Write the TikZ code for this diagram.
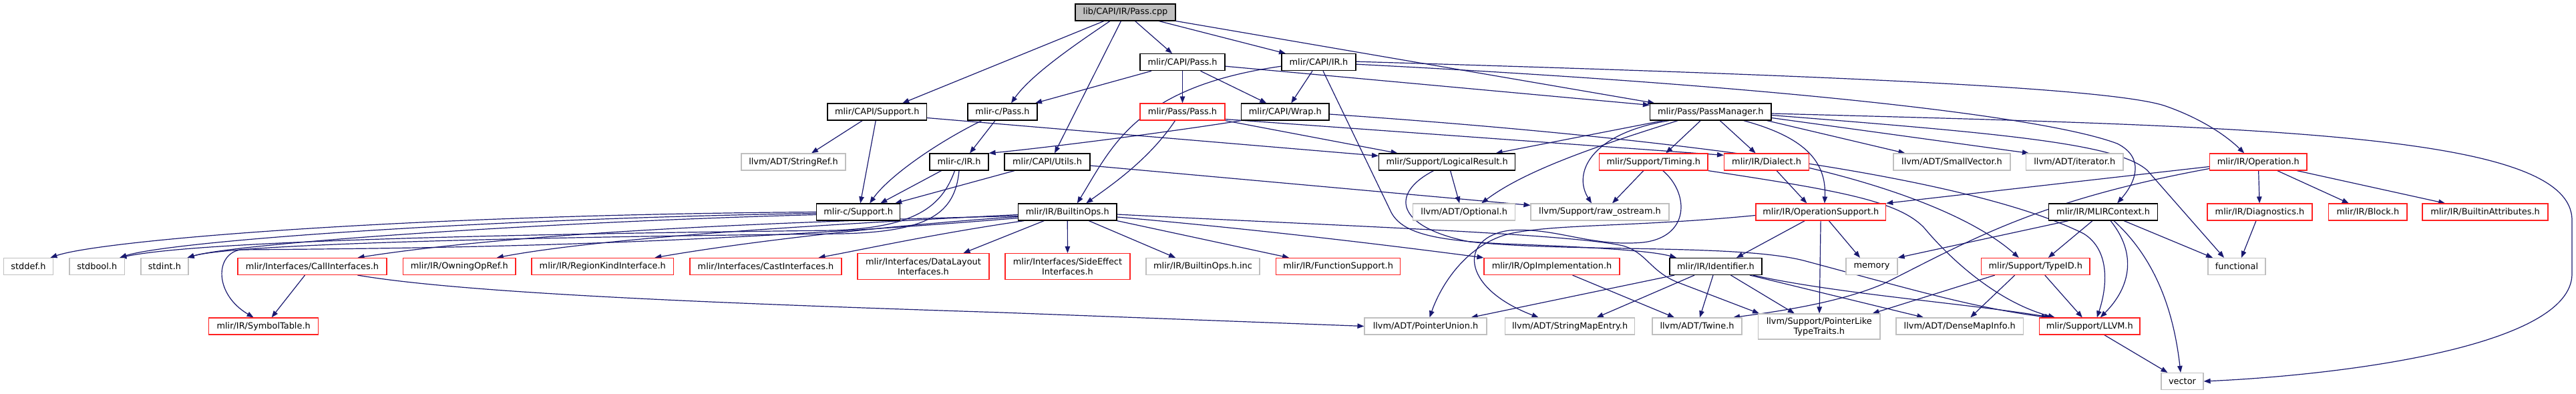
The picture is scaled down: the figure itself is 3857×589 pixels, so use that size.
\documentclass[tikz,border=0pt]{standalone}
\usepackage{fontspec}
\setmainfont{DejaVu Sans}
\usetikzlibrary{arrows.meta}
\definecolor{edgec}{HTML}{191970}
\definecolor{grayc}{HTML}{BFBFBF}
\definecolor{redc}{HTML}{FF2020}
\definecolor{rootfill}{HTML}{BFBFBF}
\newcommand\graphfont{\fontsize{12.9}{15}\selectfont}
\pgfdeclarelayer{bg}
\pgfsetlayers{bg,main}
\tikzset{
 box/.style={draw, rectangle, inner sep=0pt, minimum height=25, line width=1.2pt, fill=white, font=\graphfont, align=center},
 blk/.style={box, draw=black},
 rbox/.style={box, draw=redc},
 gbox/.style={box, draw=grayc},
 rbox2/.style={rbox, minimum height=39},
 gbox2/.style={gbox, minimum height=38},
 e/.style={draw=edgec, line width=1.2pt, -{Triangle[length=10pt,width=7.5pt]}},
}
\begin{document}
\begin{tikzpicture}[x=1pt,y=-1pt]
\useasboundingbox (0,0) rectangle (3857,589);
% row 1-3
\node[blk, minimum width=150, fill=rootfill] (passcpp) at (1685,18.4) {lib/CAPI/IR/Pass.cpp};
\node[blk, minimum width=127] (capipass) at (1770.5,93.2) {mlir/CAPI/Pass.h};
\node[blk, minimum width=111] (capiir) at (1974.5,93.2) {mlir/CAPI/IR.h};
\node[blk, minimum width=148.5] (capisupport) at (1313.25,167.5) {mlir/CAPI/Support.h};
\node[blk, minimum width=104] (cpass) at (1501,167.5) {mlir-c/Pass.h};
\node[rbox, minimum width=127] (passpass) at (1770.5,167.5) {mlir/Pass/Pass.h};
\node[blk, minimum width=131.5] (wrap) at (1924.25,167.5) {mlir/CAPI/Wrap.h};
\node[blk, minimum width=181.5] (passmanager) at (2561.25,167.5) {mlir/Pass/PassManager.h};
% row 4
\node[gbox, minimum width=156] (stringref) at (1188,242.5) {llvm/ADT/StringRef.h};
\node[blk, minimum width=88] (cir) at (1436,242.5) {mlir-c/IR.h};
\node[blk, minimum width=128] (utils) at (1568,242.5) {mlir/CAPI/Utils.h};
\node[blk, minimum width=204] (logicalresult) at (2166.6,242.5) {mlir/Support/LogicalResult.h};
\node[rbox, minimum width=162.5] (timing) at (2475.8,242.5) {mlir/Support/Timing.h};
\node[rbox, minimum width=127] (dialect) at (2645.1,242.5) {mlir/IR/Dialect.h};
\node[gbox, minimum width=175] (smallvector) at (2922.5,242.5) {llvm/ADT/SmallVector.h};
\node[gbox, minimum width=145.5] (iterator) at (3106.25,242.5) {llvm/ADT/iterator.h};
\node[rbox, minimum width=145.5] (operation) at (3381.25,242.5) {mlir/IR/Operation.h};
% row 5
\node[blk, minimum width=125] (csupport) at (1285.2,317.5) {mlir-c/Support.h};
\node[blk, minimum width=147.5] (builtinops) at (1598.25,317.5) {mlir/IR/BuiltinOps.h};
\node[gbox, minimum width=153] (optional) at (2192.2,317.5) {llvm/ADT/Optional.h};
\node[gbox, minimum width=207] (rawostream) at (2395.5,317.5) {llvm/Support/raw\_ostream.h};
\node[rbox, minimum width=194.6] (opsupport) at (2726.3,317.5) {mlir/IR/OperationSupport.h};
\node[blk, minimum width=163.3] (mlircontext) at (3149.05,317.5) {mlir/IR/MLIRContext.h};
\node[rbox, minimum width=157] (diagnostics) at (3383.5,317.5) {mlir/IR/Diagnostics.h};
\node[rbox, minimum width=117.4] (block) at (3545.3,317.5) {mlir/IR/Block.h};
\node[rbox, minimum width=188] (builtinattr) at (3721,317.5) {mlir/IR/BuiltinAttributes.h};
% row 6
\node[gbox, minimum width=74] (stddef) at (42.45,399) {stddef.h};
\node[gbox, minimum width=82.6] (stdbool) at (145.3,399) {stdbool.h};
\node[gbox, minimum width=71] (stdint) at (246.5,399) {stdint.h};
\node[rbox, minimum width=223] (callinterfaces) at (467.5,399) {mlir/Interfaces/CallInterfaces.h};
\node[rbox, minimum width=168.5] (owningopref) at (687.75,399) {mlir/IR/OwningOpRef.h};
\node[rbox, minimum width=212.5] (regionkind) at (902.25,399) {mlir/IR/RegionKindInterface.h};
\node[rbox, minimum width=227] (castinterfaces) at (1146.5,399) {mlir/Interfaces/CastInterfaces.h};
\node[rbox2, minimum width=197] (datalayout) at (1382.5,399) {mlir/Interfaces/DataLayout\\Interfaces.h};
\node[rbox2, minimum width=187] (sideeffect) at (1598.5,399) {mlir/Interfaces/SideEffect\\Interfaces.h};
\node[gbox, minimum width=170] (builtinopsinc) at (1801,399) {mlir/IR/BuiltinOps.h.inc};
\node[rbox, minimum width=185.7] (functionsupport) at (2003.55,399) {mlir/IR/FunctionSupport.h};
\node[rbox, minimum width=203] (opimpl) at (2323.5,399) {mlir/IR/OpImplementation.h};
\node[blk, minimum width=138] (identifier) at (2569,399) {mlir/IR/Identifier.h};
\node[gbox, minimum width=77] (memory) at (2802.5,399) {memory};
\node[rbox, minimum width=162.5] (typeid) at (3047.75,399) {mlir/Support/TypeID.h};
\node[gbox, minimum width=86] (functional) at (3349,399) {functional};
% row 7
\node[rbox, minimum width=164.3] (symboltable) at (394.65,488.5) {mlir/IR/SymbolTable.h};
\node[gbox, minimum width=183] (pointerunion) at (2134.5,488.5) {llvm/ADT/PointerUnion.h};
\node[gbox, minimum width=194] (stringmapentry) at (2350.6,488.5) {llvm/ADT/StringMapEntry.h};
\node[gbox, minimum width=134] (twine) at (2541,488.5) {llvm/ADT/Twine.h};
\node[gbox2, minimum width=182.4] (pointerlike) at (2723.8,489) {llvm/Support/PointerLike\\TypeTraits.h};
\node[gbox, minimum width=190.5] (densemapinfo) at (2934.25,488.5) {llvm/ADT/DenseMapInfo.h};
\node[rbox, minimum width=150.5] (llvmh) at (3128.75,488.5) {mlir/Support/LLVM.h};
% row 8
\node[gbox, minimum width=63] (vector) at (3267.5,571) {vector};

\begin{pgfonlayer}{bg}
\fill[white] (0,0) rectangle (3857,589);
% Pass.cpp
\draw[e] ([xshift=-32]passcpp.south) -- ([xshift=38]capisupport.north);
\draw[e] ([xshift=-23]passcpp.south) .. controls (1620,60) and (1545,110) .. ([xshift=13]cpass.north);
\draw[e] ([xshift=-6.5]passcpp.south) -- ([xshift=11]utils.north);
\draw[e] ([xshift=14.5]passcpp.south) -- ([xshift=-15.5]capipass.north);
\draw[e] ([xshift=50]passcpp.south) -- ([xshift=-49.5]capiir.north);
\draw[e] (passcpp.south east) -- ([xshift=-84]passmanager.north);
% CAPI/Pass.h
\draw[e] ([xshift=-46.5]capipass.south) -- ([xshift=49]cpass.north);
\draw[e] (capipass) -- (passpass);
\draw[e] ([xshift=27]capipass.south) -- ([xshift=-28]wrap.north);
\draw[e] ([yshift=-6]capipass.east) -- ([yshift=-3]passmanager.north west);
% CAPI/IR.h
\draw[e] ([xshift=-9.5]capiir.south) -- ([xshift=9]wrap.north);
\draw[e] ([yshift=-6]capiir.west) .. controls (1700,130) and (1665,220) .. ([xshift=14.5]builtinops.north);
\draw[e] ([yshift=1]capiir.east) .. controls (2700,112) and (3150,130) .. (3240,158) .. controls (3290,175) and (3330,200) .. ([xshift=-21]operation.north);
\draw[e] ([yshift=-3]capiir.east) .. controls (2600,125) and (3050,170) .. (3170,215) .. controls (3210,235) and (3200,270) .. ([xshift=21]mlircontext.north);
\draw[e] ([xshift=6.5]capiir.south) -- (2083,318) .. controls (2100,350) and (2150,360) .. (2250,365) .. controls (2380,370) and (2470,375) .. ([xshift=-59]identifier.north);
% CAPI/Support.h
\draw[e] ([xshift=-2]capisupport.south) -- ([xshift=3]csupport.north);
\draw[e] ([xshift=-22]capisupport.south) -- ([xshift=27]stringref.north);
\draw[e] ([yshift=-9]capisupport.east) -- ([yshift=-4]logicalresult.north west);
% mlir-c/Pass.h
\draw[e] ([xshift=-11]cpass.south) -- ([xshift=16]cir.north);
\draw[e] ([xshift=-31]cpass.south) .. controls (1400,215) and (1330,265) .. ([xshift=17]csupport.north);
% CAPI/Utils.h
\draw[e] ([xshift=-49]utils.south) -- ([xshift=55]csupport.north);
\draw[e] ([yshift=-5.5]utils.east) -- ([yshift=-3]rawostream.north west);
% Wrap.h
\draw[e] (wrap.south west) .. controls (1750,198) and (1560,222) .. (cir.north east);
\draw[e] ([yshift=-3.5]wrap.east) .. controls (2700,220) and (3000,290) .. (3120,350) .. controls (3160,375) and (3155,430) .. ([xshift=11]llvmh.north);
% Pass/Pass.h
\draw[e] ([xshift=-11]passpass.south) .. controls (1720,240) and (1660,280) .. ([xshift=28]builtinops.north);
\draw[e] (passpass.south east) -- ([xshift=-74]logicalresult.north);
\draw[e] ([yshift=-11]passpass.east) -- ([yshift=-3]dialect.north west);
% PassManager.h
\draw[e] ([xshift=-71]passmanager.south) -- ([xshift=73]logicalresult.north);
\draw[e] ([xshift=-49]passmanager.south) .. controls (2420,210) and (2290,250) .. ([xshift=26]optional.north);
\draw[e] ([xshift=-62]passmanager.south) .. controls (2380,200) and (2355,260) .. ([xshift=-12.5]rawostream.north);
\draw[e] ([xshift=-15]passmanager.south) -- ([xshift=18.5]timing.north);
\draw[e] ([xshift=14]passmanager.south) -- ([xshift=-16.5]dialect.north);
\draw[e] ([xshift=49.5]passmanager.south) .. controls (2700,205) and (2735,240) .. ([xshift=5.6]opsupport.north);
\draw[e] ([xshift=-7]passmanager.south east) -- ([xshift=-70]smallvector.north);
\draw[e] ([yshift=-9]passmanager.east) -- ([xshift=5]iterator.north west);
\draw[e] ([yshift=-5]passmanager.east) .. controls (3000,200) and (3170,215) .. (3215,255) -- ([xshift=-19]functional.north);
\draw[e] ([yshift=-2.5]passmanager.east) .. controls (3400,190) and (3851,200) .. (3851,330) -- (3851,410) .. controls (3851,520) and (3500,562) .. (vector.east);
% Timing.h
\draw[e] ([xshift=-15]timing.south) -- ([xshift=18.5]rawostream.north);
\draw[e] ([xshift=14]timing.south) .. controls (2530,290) and (2530,355) .. (2460,363) .. controls (2380,370) and (2330,340) .. (2260,345) .. controls (2185,355) and (2185,430) .. ([xshift=-47]stringmapentry.north);
\draw[e] (timing.south east) .. controls (2750,285) and (2840,300) .. (2880,340) .. controls (2930,400) and (3000,455) .. ([xshift=-52]llvmh.north);
% Dialect.h
\draw[e] ([xshift=15]dialect.south) -- ([xshift=-21]opsupport.north);
\draw[e] ([yshift=-9]dialect.east) .. controls (2850,285) and (2960,330) .. ([xshift=-25]typeid.north);
% LogicalResult.h
\draw[e] ([xshift=5]logicalresult.south) -- ([xshift=-7]optional.north);
\draw[e] ([xshift=-20]logicalresult.south) .. controls (2080,290) and (2090,340) .. (2200,362) .. controls (2350,378) and (2600,365) .. (2700,390) .. controls (2850,430) and (2950,460) .. ([xshift=-62]llvmh.north);
% Operation.h
\draw[e] ([yshift=-7]operation.west) -- (opsupport.north east);
\draw[e] ([yshift=-10]operation.west) .. controls (3050,300) and (2950,360) .. (2820,425) .. controls (2750,455) and (2650,468) .. ([xshift=54]twine.north);
\draw[e] (operation) -- (diagnostics);
\draw[e] ([xshift=28.5]operation.south) -- ([xshift=-28.5]block.north);
\draw[e] ([xshift=58]operation.south) -- ([xshift=-60]builtinattr.north);
% MLIRContext.h
\draw[e] ([xshift=-52]mlircontext.south) -- (memory.north east);
\draw[e] ([xshift=-16]mlircontext.south) -- ([xshift=19]typeid.north);
\draw[e] ([xshift=11]mlircontext.south) .. controls (3200,380) and (3190,430) .. ([xshift=16]llvmh.north);
\draw[e] ([xshift=16]mlircontext.south) .. controls (3230,390) and (3255,470) .. ([xshift=-2.5]vector.north);
\draw[e] ([xshift=31]mlircontext.south) -- ([xshift=-36]functional.north);
% TypeID.h
\draw[e] ([xshift=-61]typeid.south) -- ([xshift=-12]pointerlike.north east);
\draw[e] ([xshift=-31]typeid.south) -- ([xshift=16]densemapinfo.north);
\draw[e] ([xshift=14]typeid.south) -- ([xshift=-11]llvmh.north);
% OperationSupport.h
\draw[e] ([xshift=-24]opsupport.south) -- ([xshift=31]identifier.north);
\draw[e] (opsupport) -- (pointerlike);
\draw[e] ([xshift=12]opsupport.south) -- ([xshift=-17.5]memory.north);
\draw[e] ([yshift=-5]opsupport.west) .. controls (2450,340) and (2330,335) .. (2260,350) .. controls (2200,365) and (2160,420) .. ([xshift=6]pointerunion.north);
% Identifier.h
\draw[e] ([xshift=-62]identifier.south) -- ([xshift=68]pointerunion.north);
\draw[e] ([xshift=-32]identifier.south) -- ([xshift=40]stringmapentry.north);
\draw[e] ([xshift=-4]identifier.south) -- ([xshift=4]twine.north);
\draw[e] ([xshift=22.5]identifier.south) -- ([xshift=-37]pointerlike.north);
\draw[e] ([xshift=51]identifier.south) -- ([xshift=-54]densemapinfo.north);
\draw[e] ([xshift=56]identifier.south) .. controls (2750,440) and (2950,455) .. ([xshift=-57]llvmh.north);
% OpImplementation.h
\draw[e] ([xshift=31]opimpl.south) -- ([xshift=-34]twine.north);
% CallInterfaces.h
\draw[e] ([xshift=-11]callinterfaces.south) -- ([xshift=12]symboltable.north);
\draw[e] ([xshift=68]callinterfaces.south) .. controls (700,440) and (1100,455) .. (1500,468) -- (pointerunion.west);
% LLVM.h, Diagnostics.h
\draw[e] ([xshift=22]llvmh.south) -- ([xshift=-22]vector.north);
\draw[e] ([xshift=-5.5]diagnostics.south) -- ([xshift=7]functional.north);
% BuiltinOps.h
\draw[e] ([yshift=-6]builtinops.west) .. controls (1000,335) and (700,360) .. ([xshift=68]callinterfaces.north);
\draw[e] ([yshift=-9]builtinops.west) .. controls (1000,370) and (600,372) .. (360,374) .. controls (322,380) and (320,440) .. ([xshift=-15]symboltable.north);
\draw[e] ([yshift=-4]builtinops.west) .. controls (1150,340) and (880,360) .. ([xshift=56]owningopref.north);
\draw[e] ([yshift=-7]builtinops.west) .. controls (1300,340) and (1100,365) .. ([xshift=78]regionkind.north);
\draw[e] ([xshift=-65]builtinops.south) .. controls (1400,350) and (1300,372) .. ([xshift=79]castinterfaces.north);
\draw[e] ([xshift=-35]builtinops.south) -- ([xshift=60]datalayout.north);
\draw[e] (builtinops) -- (sideeffect);
\draw[e] ([xshift=32]builtinops.south) -- ([xshift=-41]builtinopsinc.north);
\draw[e] (builtinops.south east) -- ([xshift=-73.5]functionsupport.north);
\draw[e] ([yshift=-7.5]builtinops.east) .. controls (1900,345) and (2100,370) .. (opimpl.north west);
\draw[e] ([yshift=-3.5]builtinops.east) .. controls (2000,338) and (2350,350) .. (2430,368) .. controls (2465,378) and (2470,405) .. (2510,422) -- ([xshift=2]pointerlike.north west);
% mlir-c/Support.h
\draw[e] (csupport.west) .. controls (600,322) and (150,360) .. ([xshift=33]stddef.north);
\draw[e] ([yshift=-2]csupport.west) .. controls (700,328) and (250,362) .. ([xshift=34]stdbool.north);
\draw[e] ([yshift=-4]csupport.west) .. controls (800,333) and (350,365) .. ([xshift=-2]stdint.north east);
% mlir-c/IR.h
\draw[e] ([xshift=-26.5]cir.south) -- ([xshift=33]csupport.north);
\draw[e] ([xshift=-6.5]cir.south) .. controls (1410,310) and (1370,340) .. (1250,345) .. controls (800,350) and (300,360) .. ([xshift=34]stdbool.north);
\draw[e] (cir.south) .. controls (1430,320) and (1390,347) .. (1260,350) .. controls (800,355) and (350,365) .. ([xshift=-2]stdint.north east);
\end{pgfonlayer}
\end{tikzpicture}
\end{document}
